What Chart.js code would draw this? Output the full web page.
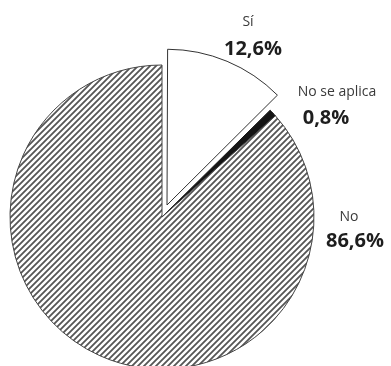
<!DOCTYPE html>
<html>
<head>
<meta charset="utf-8">
<script src="https://cdn.jsdelivr.net/npm/chart.js@4"></script>
<style>
  body { margin: 0; background: #fff; }
</style>
</head>
<body>
<canvas id="pieChart" width="391" height="366"></canvas>
<script>
const categories = ["Sí", "No se aplica", "No"];
const values = [12.6, 0.8, 86.6];
const valueLabels = ["12,6%", "0,8%", "86,6%"];

// where each label block sits (centre x, baseline of name, baseline of value)
const labelPos = [
  { x: 248, y1: 26, x2: 253, y2: 55 },
  { x: 337, y1: 96, x2: 326, y2: 124 },
  { x: 349, y1: 221, x2: 355, y2: 247 }
];

function hatchPattern() {
  const c = document.createElement("canvas");
  c.width = 6;
  c.height = 6;
  const g = c.getContext("2d");
  g.fillStyle = "#fff";
  g.fillRect(0, 0, 6, 6);
  g.strokeStyle = "#555";
  g.lineWidth = 1.8;
  g.beginPath();
  g.moveTo(-1, 7); g.lineTo(7, -1);
  g.moveTo(-4, 4); g.lineTo(4, -4);
  g.moveTo(2, 10); g.lineTo(10, 2);
  g.stroke();
  return g.createPattern(c, "repeat");
}

const labelPlugin = {
  id: "pieLabels",
  afterDatasetsDraw(chart) {
    const ctx = chart.ctx;
    ctx.save();
    ctx.textAlign = "center";
    categories.forEach((name, i) => {
      const p = labelPos[i];
      ctx.fillStyle = "#3a3a3a";
      ctx.font = "14px 'Open Sans'";
      ctx.fillText(name, p.x, p.y1);
      ctx.fillStyle = "#1e1e1e";
      ctx.font = "bold 20px 'Open Sans'";
      ctx.fillText(valueLabels[i], p.x2, p.y2);
    });
    ctx.restore();
  }
};

const ctx = document.getElementById("pieChart");

new Chart(ctx, {
  type: "pie",
  data: {
    labels: categories,
    datasets: [{
      data: values,
      backgroundColor: ["#ffffff", "#151515", hatchPattern()],
      borderColor: ["#333", "#151515", "#444"],
      borderWidth: 1,
      offset: [52, 0, 0], // chart.js moves the slice by offset / 4
      radius: 152,
      clip: false
    }]
  },
  options: {
    responsive: false,
    animation: false,
    layout: { padding: { top: 68, bottom: 0, left: 0, right: 67 } },
    plugins: {
      legend: { display: false },
      tooltip: { enabled: false }
    }
  },
  plugins: [labelPlugin]
});
</script>
</body>
</html>
